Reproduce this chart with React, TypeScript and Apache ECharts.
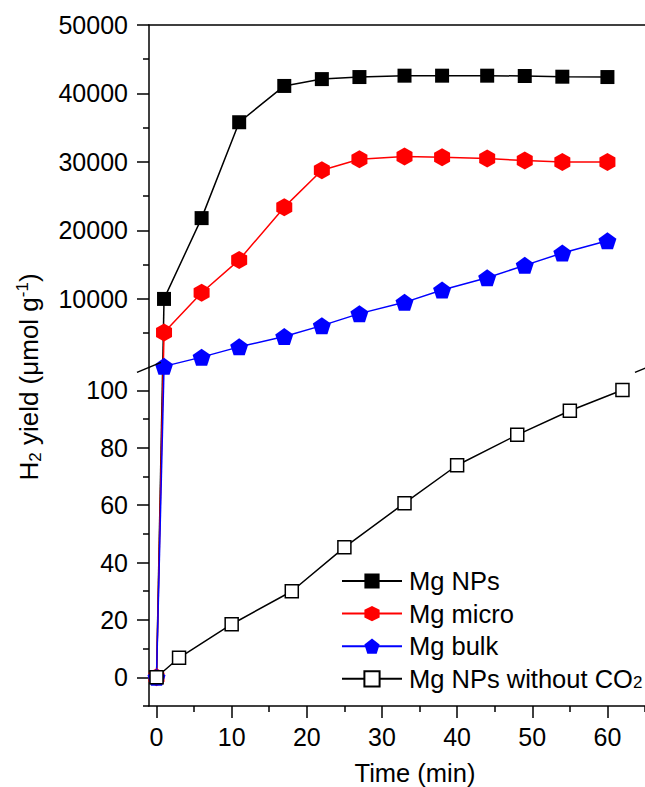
import React, { useEffect, useRef } from "react";
import * as echarts from "echarts";

// ---- data ----
const times = [0, 1, 6, 11, 17, 22, 27, 33, 38, 44, 49, 54, 60];
const mgNPs = [0, 10000, 21800, 35800, 41100, 42100, 42400, 42600, 42600, 42600, 42550, 42450, 42400];
const mgMicro = [0, 5100, 10900, 15700, 23400, 28800, 30400, 30800, 30700, 30500, 30200, 30000, 30000];
const mgBulk = [0, 150, 1500, 3000, 4500, 6100, 7850, 9500, 11300, 13100, 14900, 16700, 18500];
const timesNoCO2 = [0, 3, 10, 18, 25, 33, 40, 48, 55, 62];
const mgNPsNoCO2 = [0, 6.8, 18.5, 30, 45.3, 60.7, 73.9, 84.5, 92.9, 100.1];

const upperTicks = [10000, 20000, 30000, 40000, 50000];
const upperMinor = [5000, 15000, 25000, 35000, 45000];
const lowerTicks = [0, 20, 40, 60, 80, 100];
const lowerMinor = [-10, 10, 30, 50, 70, 90];
const xTicks = [0, 10, 20, 30, 40, 50, 60];
const xMinor = [5, 15, 25, 35, 45, 55, 65];

const upperRange = [0, 50000];
const lowerRange = [-10, 108];
const xRange = [-1, 65];

// ---- layout ----
const LEFT = 149;
const WIDTH = 498;
const TOP = 25;
const UPPER_H = 342.4;
const LOWER_H = 340.9;
const FONT = "'Liberation Sans', Arial, Helvetica, sans-serif";

const HEX = "path://M50,0 L93.3,25 L93.3,75 L50,100 L6.7,75 L6.7,25 Z";
const PENT = "path://M50,0 L97.6,34.5 L79.4,90.5 L20.6,90.5 L2.4,34.5 Z";

const axisLineStyle = { color: "#000", width: 1.5 };

// value of upper segment expressed in lower-axis units (for lines crossing the break)
const toLower = (v: number) =>
  lowerRange[1] +
  (v / (upperRange[1] - upperRange[0])) * (UPPER_H / LOWER_H) * (lowerRange[1] - lowerRange[0]);

const pairs = (xs: number[], ys: number[]) => xs.map((x, i) => [x, ys[i]]);
const plain = (v: number) => String(v);

export default function App() {
  const ref = useRef<HTMLDivElement>(null);
  useEffect(() => {
    if (!ref.current) return;
    const chart = echarts.init(ref.current, undefined, { renderer: "svg" });

    const upperSeries = [
      { name: "Mg NPs", ys: mgNPs, color: "#000000", symbol: "rect", size: 14 as any },
      { name: "Mg micro", ys: mgMicro, color: "#ff0000", symbol: HEX, size: [16, 18] as any },
      { name: "Mg bulk", ys: mgBulk, color: "#0000ff", symbol: PENT, size: [18, 17] as any },
    ];

    const series: any[] = [];
    upperSeries.forEach((s, k) => {
      // connector across the break: from t=0 (lower scale) to t=1 (upper scale)
      series.push({
        name: "_link" + k,
        type: "line",
        xAxisIndex: 1,
        yAxisIndex: 2,
        clip: false,
        z: 2,
        symbol: s.symbol,
        symbolSize: s.size,
        itemStyle: { color: s.color },
        lineStyle: { color: s.color, width: 1.5 },
        data: [
          [times[0], s.ys[0]],
          { value: [times[1], toLower(s.ys[1])], symbol: "none" },
        ],
      });
      series.push({
        name: s.name,
        type: "line",
        xAxisIndex: 0,
        yAxisIndex: 0,
        z: 3,
        symbol: s.symbol,
        symbolSize: s.size,
        itemStyle: { color: s.color },
        lineStyle: { color: s.color, width: 1.5 },
        data: pairs(times.slice(1), s.ys.slice(1)),
      });
    });
    series.push({
      name: "Mg NPs without CO2",
      type: "line",
      xAxisIndex: 1,
      yAxisIndex: 2,
      z: 4,
      symbol: "rect",
      symbolSize: 13,
      itemStyle: { color: "#ffffff", borderColor: "#000000", borderWidth: 1.5 },
      lineStyle: { color: "#000000", width: 1.5 },
      data: pairs(timesNoCO2, mgNPsNoCO2),
    });

    const baseAxis = {
      type: "value",
      splitLine: { show: false },
      axisLine: { show: true, onZero: false, lineStyle: axisLineStyle },
    };
    const labelStyle = { color: "#000", fontSize: 25, fontFamily: FONT };

    const breakY = TOP + UPPER_H;
    const breakLine = (cx: number) => ({
      type: "line",
      z: 100,
      shape: { x1: cx - 12, y1: breakY + 5, x2: cx + 12, y2: breakY - 5 },
      style: { stroke: "#000", lineWidth: 1.5 },
    });

    chart.setOption({
      animation: false,
      backgroundColor: "#ffffff",
      textStyle: { fontFamily: FONT, color: "#000" },
      grid: [
        { left: LEFT, top: TOP, width: WIDTH, height: UPPER_H, containLabel: false },
        { left: LEFT, top: TOP + UPPER_H, width: WIDTH, height: LOWER_H, containLabel: false },
      ],
      xAxis: [
        {
          ...baseAxis,
          gridIndex: 0,
          position: "top",
          min: xRange[0],
          max: xRange[1],
          axisTick: { show: false },
          axisLabel: { show: false },
        },
        {
          ...baseAxis,
          gridIndex: 1,
          position: "bottom",
          min: xRange[0],
          max: xRange[1],
          axisTick: { show: true, customValues: xTicks, length: 12, lineStyle: axisLineStyle },
          axisLabel: { ...labelStyle, customValues: xTicks, margin: 18, formatter: plain },
          name: "Time (min)",
          nameLocation: "middle",
          nameGap: 54,
          nameTextStyle: { ...labelStyle, fontSize: 25.5, padding: [0, 0, 0, 36] },
        },
        {
          ...baseAxis,
          gridIndex: 1,
          position: "bottom",
          min: xRange[0],
          max: xRange[1],
          axisLine: { show: false, onZero: false },
          axisTick: { show: true, customValues: xMinor, length: 6, lineStyle: axisLineStyle },
          axisLabel: { show: false },
        },
      ],
      yAxis: [
        {
          ...baseAxis,
          gridIndex: 0,
          position: "left",
          min: upperRange[0],
          max: upperRange[1],
          axisTick: { show: true, customValues: upperTicks, length: 12, lineStyle: axisLineStyle },
          axisLabel: { ...labelStyle, customValues: upperTicks, margin: 21, formatter: plain },
        },
        {
          ...baseAxis,
          gridIndex: 0,
          position: "left",
          min: upperRange[0],
          max: upperRange[1],
          axisLine: { show: false, onZero: false },
          axisTick: { show: true, customValues: upperMinor, length: 6, lineStyle: axisLineStyle },
          axisLabel: { show: false },
        },
        {
          ...baseAxis,
          gridIndex: 1,
          position: "left",
          min: lowerRange[0],
          max: lowerRange[1],
          axisTick: { show: true, customValues: lowerTicks, length: 12, lineStyle: axisLineStyle },
          axisLabel: { ...labelStyle, customValues: lowerTicks, margin: 21, formatter: plain },
        },
        {
          ...baseAxis,
          gridIndex: 1,
          position: "left",
          min: lowerRange[0],
          max: lowerRange[1],
          axisLine: { show: false, onZero: false },
          axisTick: { show: true, customValues: lowerMinor, length: 6, lineStyle: axisLineStyle },
          axisLabel: { show: false },
        },
      ],
      legend: {
        data: ["Mg NPs", "Mg micro", "Mg bulk", "Mg NPs without CO2"],
        orient: "vertical",
        left: 341,
        top: 568,
        padding: 0,
        itemWidth: 60,
        itemHeight: 19,
        itemGap: 6.6,
        selectedMode: false,
        formatter: (name: string) =>
          name === "Mg NPs without CO2" ? "Mg NPs without CO{sub|2}" : name,
        textStyle: {
          color: "#000",
          fontSize: 25.5,
          fontFamily: FONT,
          lineHeight: 25,
          padding: [0, 0, 0, 2],
          rich: {
            sub: { fontSize: 17, fontFamily: FONT, color: "#000", lineHeight: 14, verticalAlign: "bottom" },
          },
        },
      },
      graphic: [
        breakLine(LEFT),
        breakLine(LEFT + WIDTH),
        {
          type: "text",
          x: 29,
          y: 377,
          rotation: Math.PI / 2,
          style: {
            text: "H{sub|2} yield (μmol g{sup|-1})",
            fontSize: 26,
            fontFamily: FONT,
            fill: "#000",
            align: "center",
            verticalAlign: "middle",
            lineHeight: 30,
            rich: {
              sub: { fontSize: 17, fontFamily: FONT, fill: "#000", lineHeight: 14, verticalAlign: "bottom" },
              sup: { fontSize: 17, fontFamily: FONT, fill: "#000", lineHeight: 14, verticalAlign: "top" },
            },
          },
        },
      ],
      series,
    });

    return () => chart.dispose();
  }, []);

  return (
    <div
      ref={ref}
      style={{ position: "fixed", left: 0, top: 0, width: 645, height: 787, background: "#fff" }}
    />
  );
}
